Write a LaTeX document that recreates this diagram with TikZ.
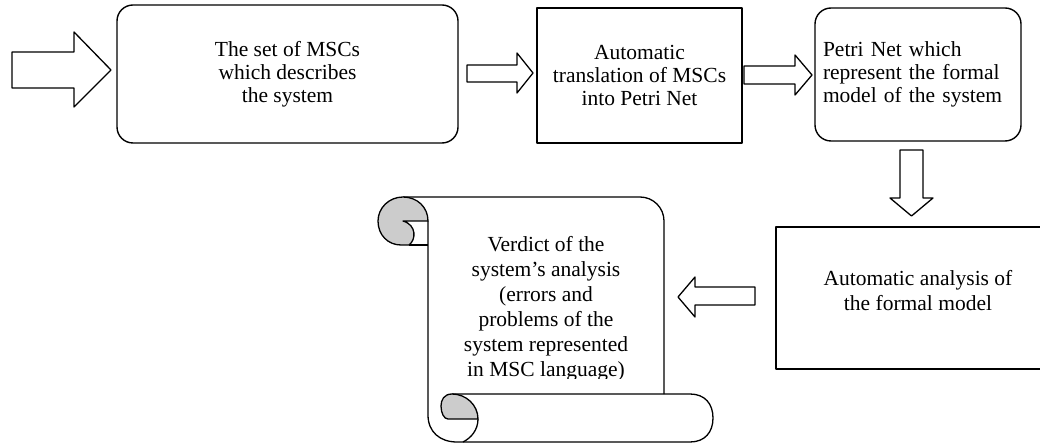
\documentclass[tikz,border=0pt]{standalone}
\usepackage{fontspec}
\setmainfont{Liberation Serif}
\begin{document}
\begin{tikzpicture}[x=1pt,y=-1pt, line width=1.4pt, line join=round,
  txt/.style={inner sep=0pt, align=center, font=\fontsize{21.5}{23}\selectfont},
  box/.style={draw, txt},
  rbox/.style={box, rounded corners=16pt},
  blockarrow/.style={draw, fill=white, line width=1.3pt},
  curl/.style={draw, fill=black!20, line width=1.3pt}]
\useasboundingbox (0,0) rectangle (1040,443);
\clip (0,0) rectangle (1040,443);

% boxes
\node[rbox, minimum width=341pt, minimum height=138pt] (b1) at (287.5,74)
  {The set of MSCs\\which describes\\the system};
\node[box, minimum width=205pt, minimum height=135pt] (b2) at (639.5,75.5)
  {Automatic\\translation of MSCs\\into Petri Net};
\node[rbox, minimum width=206pt, minimum height=133pt, align=left,
  text width=190pt, inner xsep=8pt] (b3) at (918,74.5)
  {Petri Net which\\represent the formal\\model of the system};
\node[draw, minimum width=284pt, minimum height=142pt] (b4) at (918,298) {};
\node[txt, font=\fontsize{21.5}{25}\selectfont] (b4t) at ([yshift=7pt]b4.center)
  {Automatic analysis of\\the formal model};

% block arrows
\draw[blockarrow] (12,52) -- (74,52) -- (74,32) -- (111,70) -- (74,107) -- (74,88) -- (12,88) -- cycle;
\draw[blockarrow] (467,65) -- (517,65) -- (517,53) -- (533,73) -- (517,93) -- (517,82) -- (467,82) -- cycle;
\draw[blockarrow] (744,66) -- (795,66) -- (795,55) -- (812,75) -- (795,95) -- (795,84) -- (744,84) -- cycle;
\draw[blockarrow] (900,150) -- (923,150) -- (923,198) -- (933,198) -- (911.5,216) -- (890,198) -- (900,198) -- cycle;
\draw[blockarrow] (755,287) -- (695,287) -- (695,277) -- (678,297) -- (695,317) -- (695,305) -- (755,305) -- cycle;

% scroll
\draw[line width=1.3pt, rounded corners=24pt] (403,197) -- (664,197) -- (664,394);
\draw[line width=1.3pt] (428,221) -- (428,415) .. controls (428,432) and (440,442) .. (457,442)
  -- (690,442) .. controls (705,442) and (713,432) .. (713,418)
  .. controls (713,404) and (705,394) .. (690,394) -- (452,394);
\draw[line width=1.3pt] (409,245) -- (428,245);
\draw[curl] (403,197) .. controls (389,197) and (378,208) .. (378,221)
  .. controls (378,235) and (388,245) .. (401,245) -- (409,245)
  .. controls (416,240) and (417,225) .. (403,221) -- (428,221)
  .. controls (428,207) and (417,197) .. (403,197) -- cycle;
\draw[curl] (452,394) .. controls (444,394) and (441,400) .. (441,406)
  .. controls (441,413) and (444,419) .. (448,419) -- (478,419)
  .. controls (478,405) and (466,394) .. (452,394) -- cycle;
\draw[line width=1.3pt] (478,419) .. controls (478,430) and (471,438) .. (463,442);
\begin{scope}
\clip (430,200) rectangle (662,378);
\node[txt, font=\fontsize{21.5}{25}\selectfont] (scrolltext) at (546,308.5)
  {Verdict of the\\system’s analysis\\(errors and\\problems of the\\system represented\\in MSC language)};
\end{scope}
\end{tikzpicture}
\end{document}
